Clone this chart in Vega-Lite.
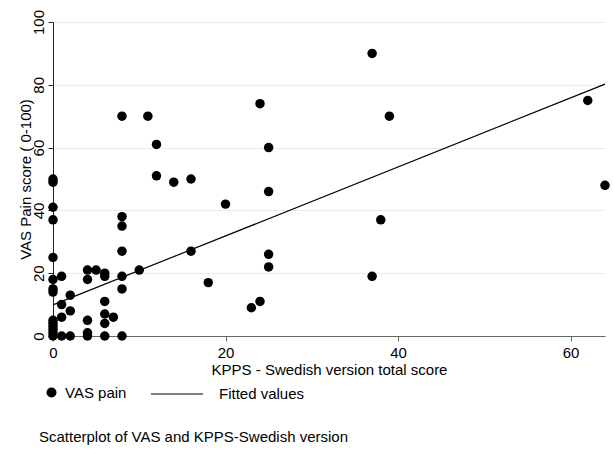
{
  "$schema": "https://vega.github.io/schema/vega-lite/v6.json",
  "width": 552,
  "height": 314,
  "autosize": {"type": "none"},
  "padding": {"left": 53, "top": 22, "right": 8, "bottom": 115},
  "background": "white",
  "config": {"view": {"stroke": null}, "font": "Liberation Sans"},
  "title": {
    "text": "Scatterplot of VAS and KPPS-Swedish version",
    "orient": "bottom",
    "anchor": "start",
    "frame": "group",
    "fontSize": 15,
    "fontWeight": "normal",
    "font": "Liberation Sans",
    "color": "black",
    "offset": 28,
    "dx": -14
  },
  "datasets": {
    "points": [
      {"kpps": 0, "vas": 0, "series": "VAS pain"},
      {"kpps": 0, "vas": 1, "series": "VAS pain"},
      {"kpps": 0, "vas": 2, "series": "VAS pain"},
      {"kpps": 0, "vas": 3, "series": "VAS pain"},
      {"kpps": 0, "vas": 4, "series": "VAS pain"},
      {"kpps": 0, "vas": 5, "series": "VAS pain"},
      {"kpps": 0, "vas": 14, "series": "VAS pain"},
      {"kpps": 0, "vas": 15, "series": "VAS pain"},
      {"kpps": 0, "vas": 18, "series": "VAS pain"},
      {"kpps": 0, "vas": 25, "series": "VAS pain"},
      {"kpps": 0, "vas": 37, "series": "VAS pain"},
      {"kpps": 0, "vas": 41, "series": "VAS pain"},
      {"kpps": 0, "vas": 49, "series": "VAS pain"},
      {"kpps": 0, "vas": 50, "series": "VAS pain"},
      {"kpps": 1, "vas": 0, "series": "VAS pain"},
      {"kpps": 1, "vas": 6, "series": "VAS pain"},
      {"kpps": 1, "vas": 10, "series": "VAS pain"},
      {"kpps": 1, "vas": 19, "series": "VAS pain"},
      {"kpps": 2, "vas": 0, "series": "VAS pain"},
      {"kpps": 2, "vas": 8, "series": "VAS pain"},
      {"kpps": 2, "vas": 13, "series": "VAS pain"},
      {"kpps": 4, "vas": 0, "series": "VAS pain"},
      {"kpps": 4, "vas": 1, "series": "VAS pain"},
      {"kpps": 4, "vas": 5, "series": "VAS pain"},
      {"kpps": 4, "vas": 18, "series": "VAS pain"},
      {"kpps": 4, "vas": 21, "series": "VAS pain"},
      {"kpps": 5, "vas": 21, "series": "VAS pain"},
      {"kpps": 6, "vas": 0, "series": "VAS pain"},
      {"kpps": 6, "vas": 4, "series": "VAS pain"},
      {"kpps": 6, "vas": 7, "series": "VAS pain"},
      {"kpps": 6, "vas": 11, "series": "VAS pain"},
      {"kpps": 6, "vas": 19, "series": "VAS pain"},
      {"kpps": 6, "vas": 20, "series": "VAS pain"},
      {"kpps": 7, "vas": 6, "series": "VAS pain"},
      {"kpps": 8, "vas": 0, "series": "VAS pain"},
      {"kpps": 8, "vas": 15, "series": "VAS pain"},
      {"kpps": 8, "vas": 19, "series": "VAS pain"},
      {"kpps": 8, "vas": 27, "series": "VAS pain"},
      {"kpps": 8, "vas": 35, "series": "VAS pain"},
      {"kpps": 8, "vas": 38, "series": "VAS pain"},
      {"kpps": 8, "vas": 70, "series": "VAS pain"},
      {"kpps": 10, "vas": 21, "series": "VAS pain"},
      {"kpps": 11, "vas": 70, "series": "VAS pain"},
      {"kpps": 12, "vas": 51, "series": "VAS pain"},
      {"kpps": 12, "vas": 61, "series": "VAS pain"},
      {"kpps": 14, "vas": 49, "series": "VAS pain"},
      {"kpps": 16, "vas": 27, "series": "VAS pain"},
      {"kpps": 16, "vas": 50, "series": "VAS pain"},
      {"kpps": 18, "vas": 17, "series": "VAS pain"},
      {"kpps": 20, "vas": 42, "series": "VAS pain"},
      {"kpps": 23, "vas": 9, "series": "VAS pain"},
      {"kpps": 24, "vas": 11, "series": "VAS pain"},
      {"kpps": 24, "vas": 74, "series": "VAS pain"},
      {"kpps": 25, "vas": 22, "series": "VAS pain"},
      {"kpps": 25, "vas": 26, "series": "VAS pain"},
      {"kpps": 25, "vas": 46, "series": "VAS pain"},
      {"kpps": 25, "vas": 60, "series": "VAS pain"},
      {"kpps": 37, "vas": 19, "series": "VAS pain"},
      {"kpps": 37, "vas": 90, "series": "VAS pain"},
      {"kpps": 38, "vas": 37, "series": "VAS pain"},
      {"kpps": 39, "vas": 70, "series": "VAS pain"},
      {"kpps": 62, "vas": 75, "series": "VAS pain"},
      {"kpps": 64, "vas": 48, "series": "VAS pain"}
    ],
    "fit": [
      {"kpps": 0, "fitted": 9.9, "series": "Fitted values"},
      {"kpps": 64, "fitted": 80.2, "series": "Fitted values"}
    ]
  },
  "layer": [
    {
      "data": {"name": "points"},
      "mark": {"type": "point", "filled": true, "shape": "circle", "size": 90, "opacity": 1},
      "encoding": {
        "x": {
          "field": "kpps",
          "type": "quantitative",
          "scale": {"domain": [0, 64], "nice": false, "zero": false},
          "axis": {
            "values": [0, 20, 40, 60],
            "title": "KPPS - Swedish version total score",
            "grid": false,
            "domainColor": "#666666",
            "tickColor": "#666666",
            "tickSize": 5,
            "labelFontSize": 15,
            "labelFont": "Liberation Sans",
            "labelColor": "black",
            "labelPadding": 4,
            "labelFlush": false,
            "titleFontSize": 15,
            "titleFont": "Liberation Sans",
            "titleFontWeight": "normal",
            "titleColor": "black",
            "titleY": 38,
            "titleBaseline": "alphabetic"
          }
        },
        "y": {
          "field": "vas",
          "type": "quantitative",
          "scale": {"domain": [0, 100], "nice": false},
          "axis": {
            "values": [0, 20, 40, 60, 80, 100],
            "title": "VAS Pain score ( 0-100)",
            "grid": true,
            "gridColor": "#e4edf0",
            "gridWidth": 1,
            "domainColor": "#222222",
            "tickColor": "#222222",
            "tickSize": 5,
            "labelAngle": -90,
            "labelAlign": "center",
            "labelBaseline": "alphabetic",
            "labelPadding": 5,
            "labelFontSize": 15,
            "labelFont": "Liberation Sans",
            "labelColor": "black",
            "labelFlush": false,
            "titleFontSize": 15,
            "titleFont": "Liberation Sans",
            "titleFontWeight": "normal",
            "titleColor": "black",
            "titleAngle": -90,
            "titleAlign": "center",
            "titleBaseline": "alphabetic",
            "titleX": -23,
            "titleY": 157
          }
        },
        "color": {
          "field": "series",
          "type": "nominal",
          "scale": {"range": ["black"]},
          "legend": {
            "orient": "none",
            "legendX": -9,
            "legendY": 363,
            "title": null,
            "padding": 0,
            "symbolType": "circle",
            "symbolSize": 100,
            "symbolFillColor": "black",
            "symbolStrokeWidth": 0,
            "labelFontSize": 15,
            "labelFont": "Liberation Sans",
            "labelColor": "black",
            "labelOffset": 6
          }
        }
      }
    },
    {
      "data": {"name": "fit"},
      "mark": {"type": "line", "strokeWidth": 1.2},
      "encoding": {
        "x": {"field": "kpps", "type": "quantitative"},
        "y": {"field": "fitted", "type": "quantitative"},
        "color": {
          "field": "series",
          "type": "nominal",
          "scale": {"range": ["black"]},
          "legend": {
            "orient": "none",
            "legendX": 97,
            "legendY": 345,
            "title": null,
            "padding": 0,
            "symbolType": "stroke",
            "symbolSize": 2704,
            "symbolStrokeColor": "black",
            "symbolStrokeWidth": 1.2,
            "labelFontSize": 15,
            "labelFont": "Liberation Sans",
            "labelColor": "black",
            "labelOffset": 15
          }
        }
      }
    }
  ],
  "resolve": {"scale": {"color": "independent"}}
}
